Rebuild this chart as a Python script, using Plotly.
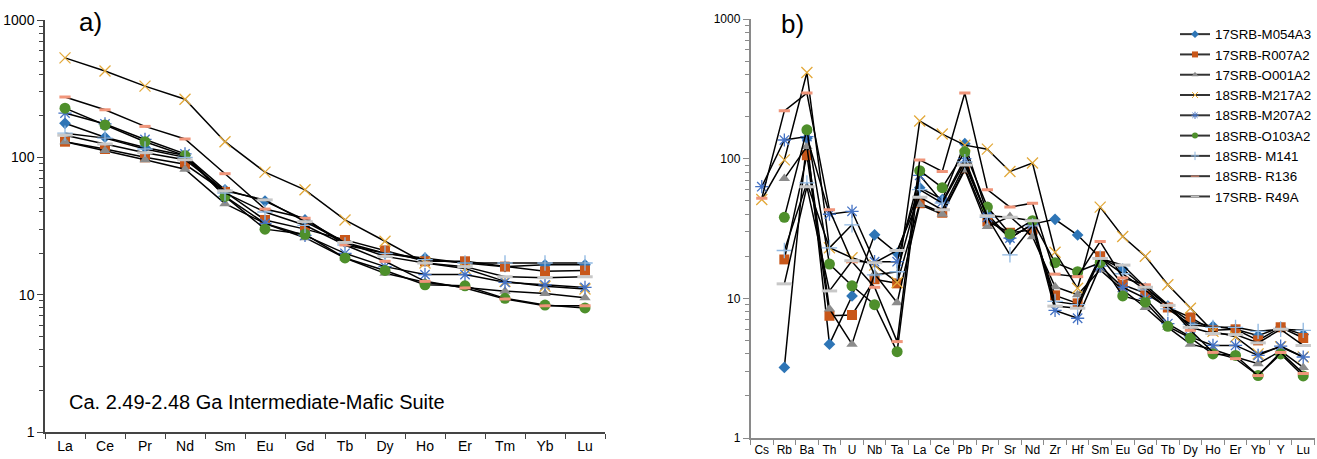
import plotly.graph_objects as go

# ---------------- data ----------------
ree_cats = ["La", "Ce", "Pr", "Nd", "Sm", "Eu", "Gd", "Tb", "Dy", "Ho", "Er", "Tm", "Yb", "Lu"]
spider_cats = ["Cs", "Rb", "Ba", "Th", "U", "Nb", "Ta", "La", "Ce", "Pb", "Pr", "Sr", "Nd",
               "Zr", "Hf", "Sm", "Eu", "Gd", "Tb", "Dy", "Ho", "Er", "Yb", "Y", "Lu"]

sample_names = ["17SRB-M054A3", "17SRB-R007A2", "17SRB-O001A2", "18SRB-M217A2", "18SRB-M207A2",
                "18SRB-O103A2", "18SRB- M141", "18SRB- R136", "17SRB- R49A"]

ree_M054A3 = [177, 140, 118, 103, 58, 48, 35, 24, 20, 18.5, 17, 16, 16.5, 16.5]
ree_R007A2 = [130, 115, 100, 89, 56, 35, 30, 25, 21, 17.5, 17.5, 16, 14.8, 15]
ree_O001A2 = [130, 112, 96, 82, 46, 33, 26, 18.5, 14.3, 12.3, 11.3, 10.6, 10.2, 9.5]
ree_M217A2 = [530, 425, 330, 265, 130, 78, 58, 35, 24.5, 17, 15.5, 12.5, 11.5, 11]
ree_M207A2 = [210, 175, 135, 106, 52, 33, 27, 20, 16, 14, 14, 12.3, 11.8, 11.3]
ree_O103A2 = [228, 172, 130, 103, 52, 30, 27.5, 18.5, 15, 11.8, 11.6, 9.4, 8.4, 8.0]
ree_M141 = [150, 138, 115, 100, 55, 40, 32, 23, 20, 18, 17, 17, 17, 17]
ree_R136 = [275, 222, 168, 136, 76, 42, 36, 23, 17.5, 12.5, 11.2, 9.3, 8.3, 8.3]
ree_R49A = [145, 125, 108, 96, 57, 49, 34, 24, 19, 17, 16, 13.5, 13.3, 13.5]

sp_M054A3 = [None, 3.2, 140, 4.7, 10.4, 28.5, 21, 62, 51, 128, 40, 27, 34, 36.8, 28.4, 19.5, 16.2, 11.8, 8.8, 6.8, 6.3, 6.0, 5.4, 6.2, 5.5]
sp_R007A2 = [None, 19, 106, 7.5, 7.6, 13.7, 12.8, 48, 41, 85, 35.5, 29.5, 31, 10.5, 9.2, 20, 12.5, 10.9, 8.6, 7.3, 5.9, 6.0, 5.0, 6.2, 5.2]
sp_O001A2 = [None, 72, 122, 8.4, 4.7, 15, 9.3, 47, 40, 83, 32.7, 38.5, 27.6, 12.1, 10.6, 16, 11.5, 8.6, 6.2, 4.7, 4.3, 3.8, 3.4, 4.2, 3.2]
sp_M217A2 = [51, 98, 414, 23, 19.5, 17.3, 13, 186, 150, 125, 117, 81, 93, 21.4, 11.8, 45, 27.7, 20, 12.5, 8.5, 5.8, 5.3, 4.0, 4.5, 3.8]
sp_M207A2 = [63, 136, 144, 40, 42, 18.3, 18.3, 76, 49, 100, 38, 27, 34, 8.2, 7.2, 17, 12, 10, 6.6, 5.3, 4.6, 4.6, 3.9, 4.55, 3.8]
sp_O103A2 = [None, 38, 161, 17.6, 12.3, 9.0, 4.15, 82, 62, 112, 45, 29, 36, 18, 15.5, 18, 10.4, 9.4, 6.3, 5.2, 4.0, 3.9, 2.8, 4.0, 2.78]
sp_M141 = [None, 22, 67, 23, 33.6, 14.7, 15.5, 60, 48, 95, 38, 20.5, 33, 9.5, 9.0, 19.5, 15, 11.5, 8.4, 6.5, 6.2, 6.2, 5.8, 6.0, 5.9]
sp_R136 = [52, 220, 295, 43, 18.3, 12, 4.9, 98, 81, 295, 60, 45, 48, 14.9, 14.3, 25.5, 14, 12.5, 9, 5.9, 4.1, 3.7, 2.8, 4.1, 2.9]
sp_R49A = [None, 12.7, 63, 11.3, 18.6, 18, 22, 53, 43, 90, 39, 38, 36, 8.8, 8.5, 19.3, 17.3, 12, 8.9, 6.2, 5.6, 5.5, 4.8, 6.0, 4.6]

ree_series = [ree_M054A3, ree_R007A2, ree_O001A2, ree_M217A2, ree_M207A2, ree_O103A2, ree_M141, ree_R136, ree_R49A]
sp_series = [sp_M054A3, sp_R007A2, sp_O001A2, sp_M217A2, sp_M207A2, sp_O103A2, sp_M141, sp_R136, sp_R49A]

# ---------------- styles ----------------
styles = [
    dict(symbol="diamond", color="#2E75B6", size=9, lw=0),
    dict(symbol="square", color="#C8571A", size=10, lw=0),
    dict(symbol="triangle-up", color="#8C8C8C", size=10, lw=0),
    dict(symbol="x-thin-open", color="#E3A93A", size=11, lw=1.3),
    dict(symbol="asterisk-open", color="#4472C4", size=11, lw=1.3),
    dict(symbol="circle", color="#4E8F2B", size=11, lw=0),
    dict(symbol="cross-thin-open", color="#8FB8E2", size=11, lw=1.3),
    dict(symbol="line-ew-open", color="#F0957A", size=8, lw=3),
    dict(symbol="line-ew-open", color="#C8C8C8", size=11, lw=3),
]
FONT = "Arial, Liberation Sans, sans-serif"

fig = go.Figure()

for name, ys, st in zip(sample_names, ree_series, styles):
    fig.add_trace(go.Scatter(
        x=ree_cats, y=ys, mode="lines+markers", name=name, showlegend=False,
        line=dict(color="black", width=1.5),
        marker=dict(symbol=st["symbol"], color=st["color"], size=st["size"],
                    line=dict(color=st["color"], width=st["lw"])),
        xaxis="x", yaxis="y"))

for name, ys, st in zip(sample_names, sp_series, styles):
    fig.add_trace(go.Scatter(
        x=spider_cats, y=ys, mode="lines+markers", name=name, showlegend=False,
        line=dict(color="black", width=1.5),
        marker=dict(symbol=st["symbol"], color=st["color"], size=st["size"],
                    line=dict(color=st["color"], width=st["lw"])),
        xaxis="x2", yaxis="y2"))

# legend-only entries with small markers
for name, st in zip(sample_names, styles):
    fig.add_trace(go.Scatter(
        x=[None], y=[None], mode="lines+markers", name=name, showlegend=True,
        line=dict(color="#333333", width=2),
        marker=dict(symbol=st["symbol"], color=st["color"], size=6,
                    line=dict(color=st["color"], width=1 if st["lw"] else 0)),
        xaxis="x2", yaxis="y2"))

W, H = 1317, 459
minor_vals = [m * 10 ** e for e in range(0, 3) for m in range(2, 10)]

def yaxis(dom, anchor, linecolor, fsize):
    return dict(type="log", range=[0, 3], domain=dom, anchor=anchor, automargin=False,
                tickvals=[1, 10, 100, 1000], ticktext=["1", "10", "100", "1000"],
                ticks="outside", ticklen=6, tickcolor=linecolor,
                minor=dict(tickvals=minor_vals, ticks="outside", ticklen=4, tickcolor=linecolor),
                showline=True, linecolor=linecolor, linewidth=1.5,
                showgrid=False, zeroline=False,
                tickfont=dict(family=FONT, size=fsize, color="black"))

def xaxis(dom, anchor, linecolor, fsize, n):
    return dict(type="category", domain=dom, anchor=anchor, range=[-0.5, n - 0.5],
                automargin=False,
                tickson="boundaries", ticks="outside", ticklen=5, tickcolor=linecolor,
                tickangle=0,
                showline=True, linecolor=linecolor, linewidth=1.5,
                showgrid=False, zeroline=False,
                tickfont=dict(family=FONT, size=fsize, color="black"))

fig.update_layout(
    width=W, height=H,
    margin=dict(l=0, r=0, t=0, b=0),
    paper_bgcolor="white", plot_bgcolor="white",
    xaxis=xaxis([45 / W, 605 / W], "y", "#444444", 14, len(ree_cats)),
    yaxis=yaxis([(H - 432) / H, (H - 20) / H], "x", "#444444", 14),
    xaxis2=xaxis([750.5 / W, 1314.5 / W], "y2", "#8A8A8A", 12, len(spider_cats)),
    yaxis2=yaxis([(H - 438) / H, (H - 19) / H], "x2", "#8A8A8A", 12),
    legend=dict(x=1.0, y=1 - 19 / H, xanchor="right", yanchor="top",
                font=dict(family=FONT, size=13.3, color="black"),
                bgcolor="rgba(0,0,0,0)", itemwidth=30, tracegroupgap=0),
    annotations=[
        dict(text="a)", x=77 / W, y=1 - 22 / H, xref="paper", yref="paper",
             xanchor="left", yanchor="middle", showarrow=False,
             font=dict(family=FONT, size=26, color="black")),
        dict(text="b)", x=779 / W, y=1 - 24 / H, xref="paper", yref="paper",
             xanchor="left", yanchor="middle", showarrow=False,
             font=dict(family=FONT, size=26, color="black")),
        dict(text="Ca. 2.49-2.48 Ga Intermediate-Mafic Suite", x=67 / W, y=1 - 402 / H,
             xref="paper", yref="paper", xanchor="left", yanchor="middle", showarrow=False,
             font=dict(family=FONT, size=20, color="black")),
    ],
)

fig.write_html("out.html")
